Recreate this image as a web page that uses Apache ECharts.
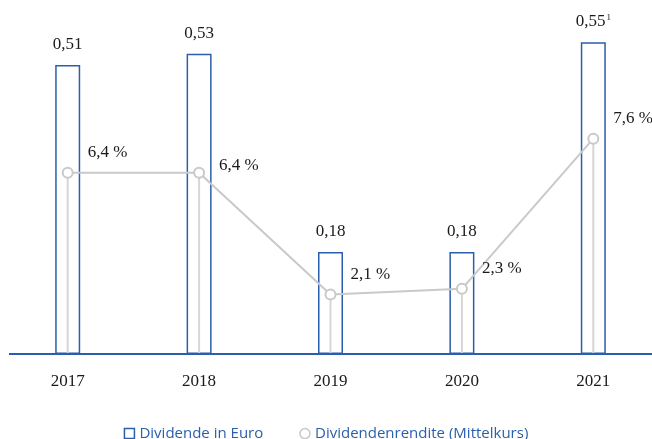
<!DOCTYPE html>
<html>
<head>
<meta charset="utf-8">
<script src="https://cdn.jsdelivr.net/npm/echarts@6/dist/echarts.min.js"></script>
<style>
  html, body { margin: 0; padding: 0; background: #fff; }
  #chart { width: 652px; height: 439px; }
</style>
</head>
<body>
<div id="chart"></div>
<script>
// Daten
const years = ['2017', '2018', '2019', '2020', '2021'];
const dividend = [0.51, 0.53, 0.18, 0.18, 0.55];   // Dividende in Euro
const footnotes = ['', '', '', '', '1'];             // Fußnotenzeichen
const yieldPct = [6.4, 6.4, 2.1, 2.3, 7.6];          // Dividendenrendite in %

const blue = '#2b5fad';
const grey = '#c9c9c9';
const serif = '"Liberation Serif", serif';

const fmt = (v, d) => v.toFixed(d).replace('.', ',');

const chart = echarts.init(document.getElementById('chart'));

const option = {
  animation: false,
  grid: { left: 2, right: -7, top: 14, bottom: 85, outerBoundsMode: 'none' },
  legend: {
    top: 421,
    left: 'center',
    itemWidth: 10,
    itemHeight: 10,
    itemGap: 36,
    textStyle: { color: blue, fontFamily: '"Open Sans", sans-serif', fontSize: 15 },
    data: [
      { name: 'Dividende in Euro', icon: 'rect', itemStyle: { color: '#fff', borderColor: blue, borderWidth: 1.5 } },
      { name: 'Dividendenrendite (Mittelkurs)', icon: 'circle', itemStyle: { color: '#fff', borderColor: grey, borderWidth: 1.5 } }
    ]
  },
  xAxis: {
    type: 'category',
    data: years,
    axisLine: { show: false },
    axisTick: { show: false },
    axisLabel: { margin: 19, color: '#1a1a1a', fontFamily: serif, fontSize: 17 }
  },
  yAxis: [
    { type: 'value', min: 0, max: 0.6, show: false },
    { type: 'value', min: 0, max: 12, show: false }
  ],
  series: [
    {
      name: 'Dividende in Euro',
      type: 'bar',
      z: 1,
      barWidth: 25,
      data: dividend.map((v, i) => ({
        value: v,
        label: {
          formatter: footnotes[i] ? '{a|' + fmt(v, 2) + '}{s|' + footnotes[i] + '}' : fmt(v, 2)
        }
      })),
      itemStyle: { color: '#fff', borderColor: blue, borderWidth: 1.5 },
      label: {
        show: true,
        position: 'top',
        distance: 12,
        color: '#1a1a1a',
        fontFamily: serif,
        fontSize: 17,
        rich: {
          a: { color: '#1a1a1a', fontFamily: serif, fontSize: 17 },
          s: { color: '#1a1a1a', fontFamily: serif, fontSize: 9, verticalAlign: 'top', padding: [0, 0, 8, 1] }
        }
      }
    },
    {
      // senkrechte Linien vom Punkt zur Achse
      type: 'custom',
      yAxisIndex: 1,
      z: 2,
      silent: true,
      data: yieldPct.map((v, i) => [i, v]),
      renderItem: (params, api) => {
        const top = api.coord([api.value(0), api.value(1)]);
        const base = api.coord([api.value(0), 0]);
        return {
          type: 'line',
          shape: { x1: top[0], y1: top[1], x2: base[0], y2: base[1] },
          style: { stroke: '#d6d6d6', lineWidth: 2 }
        };
      }
    },
    {
      name: 'Dividendenrendite (Mittelkurs)',
      type: 'line',
      yAxisIndex: 1,
      z: 3,
      symbol: 'circle',
      symbolSize: 10,
      data: yieldPct.map((v, i) => ({
        value: v,
        label: { offset: i === 1 ? [9, -7] : [9, -20] }
      })),
      lineStyle: { color: grey, width: 2 },
      itemStyle: { color: '#fff', borderColor: grey, borderWidth: 2 },
      label: {
        show: true,
        position: 'right',
        distance: 5,
        color: '#1a1a1a',
        fontFamily: serif,
        fontSize: 17,
        formatter: p => fmt(p.value, 1) + ' %'
      }
    }
  ],
  graphic: [
    {
      type: 'line',
      z: 10,
      shape: { x1: 9, y1: 354, x2: 652, y2: 354 },
      style: { stroke: blue, lineWidth: 2 }
    }
  ]
};

chart.setOption(option);
</script>
</body>
</html>
